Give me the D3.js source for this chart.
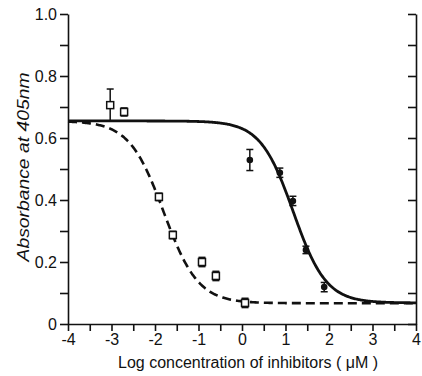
<!DOCTYPE html>
<html><head><meta charset="utf-8">
<script src="https://cdn.jsdelivr.net/npm/d3@7"></script>
<style>body{margin:0;background:#fff}svg{display:block}</style>
</head><body>
<svg id="c" width="422" height="376"></svg>
<script>
// Data
const squareX   = [-3.03, -2.71, -1.91, -1.59, -0.92, -0.60, 0.07];
const squareY   = [0.706, 0.684, 0.410, 0.287, 0.200, 0.155, 0.068];
const squareErr = [0.052, 0.013, 0.012, 0.012, 0.015, 0.015, 0.015];
const circleX   = [0.18, 0.87, 1.17, 1.47, 1.89];
const circleY   = [0.529, 0.488, 0.397, 0.239, 0.119];
const circleErr = [0.034, 0.015, 0.015, 0.012, 0.015];
// fitted curve parameters [top, bottom, logIC50, hill]
const dashedFit = [0.655, 0.067, -1.80, 1.10];
const solidFit  = [0.655, 0.068, 1.18, 1.15];
const xTicks = [-4, -3, -2, -1, 0, 1, 2, 3, 4];
const yTicks = [0, 0.2, 0.4, 0.6, 0.8, 1.0];
const xLabel = "Log concentration of inhibitors ( \u03BCM )";
const yLabel = "Absorbance at 405nm";

const svg = d3.select("#c");
const x = d3.scaleLinear().domain([-4, 4]).range([68, 416]);
const y = d3.scaleLinear().domain([0, 1]).range([324, 14]);
const font = "'Liberation Sans', Arial, sans-serif";

// axes
const yMinor = d3.range(0, 10.5, 1).map(d => d / 10);
const left = svg.append("g").attr("transform", `translate(${x(-4)},0)`)
  .call(d3.axisLeft(y).tickValues(yMinor).tickSize(8).tickSizeOuter(0).tickPadding(3)
    .tickFormat(d => {
      const k = Math.round(d * 10);
      if (k % 2) return "";
      return k === 0 ? "0" : d.toFixed(1);
    }));
const right = svg.append("g").attr("transform", `translate(${x(4)},0)`)
  .call(d3.axisLeft(y).tickValues(yMinor).tickSize(8).tickSizeOuter(0).tickFormat(""));
const xMinor = d3.range(-8, 8.5, 1).map(d => d / 2);
const bottom = svg.append("g").attr("transform", `translate(0,${y(0)})`)
  .call(d3.axisBottom(x).tickValues(xMinor).tickSize(7).tickSizeOuter(0).tickPadding(3)
    .tickFormat(d => Number.isInteger(d) && xTicks.includes(d) ? String(d) : ""));
[left, right, bottom].forEach(g => {
  g.selectAll("path,line").attr("stroke", "#111").attr("stroke-width", 1.6);
  g.selectAll("text").attr("fill", "#111").style("font-family", font).style("font-size", "16px");
});

// curves
function hill(p, v) { return p[1] + (p[0] - p[1]) / (1 + Math.pow(10, (v - p[2]) * p[3])); }
const xs = d3.range(0, 401).map(i => -4 + i * 0.02);
const line = p => d3.line().x(d => x(d)).y(d => y(hill(p, d)))(xs);
svg.append("path").attr("d", line(dashedFit)).attr("fill", "none")
  .attr("stroke", "#111").attr("stroke-width", 2.6).attr("stroke-dasharray", "9,5");
svg.append("path").attr("d", line(solidFit)).attr("fill", "none")
  .attr("stroke", "#111").attr("stroke-width", 2.8);

// error bars
function errBars(xa, ya, ea) {
  const g = svg.append("g").attr("stroke", "#111").attr("stroke-width", 1.5);
  xa.forEach((xv, i) => {
    const cx = x(xv), t = y(ya[i] + ea[i]), b = y(ya[i] - ea[i]);
    g.append("line").attr("x1", cx).attr("x2", cx).attr("y1", t).attr("y2", b);
    g.append("line").attr("x1", cx - 3.5).attr("x2", cx + 3.5).attr("y1", t).attr("y2", t);
    g.append("line").attr("x1", cx - 3.5).attr("x2", cx + 3.5).attr("y1", b).attr("y2", b);
  });
}
errBars(squareX, squareY, squareErr);
errBars(circleX, circleY, circleErr);
svg.append("g").selectAll("rect").data(squareX).join("rect")
  .attr("x", d => x(d) - 3.5).attr("y", (d, i) => y(squareY[i]) - 3.5)
  .attr("width", 7).attr("height", 7).attr("fill", "#fff").attr("stroke", "#111").attr("stroke-width", 1.5);
svg.append("g").selectAll("circle").data(circleX).join("circle")
  .attr("cx", d => x(d)).attr("cy", (d, i) => y(circleY[i])).attr("r", 3.3).attr("fill", "#111");

// labels
svg.append("text").attr("x", 248).attr("y", 368).attr("text-anchor", "middle")
  .style("font-family", font).style("font-size", "16px").attr("fill", "#111").text(xLabel);
svg.append("text").attr("transform", "translate(29,167) rotate(-90)").attr("text-anchor", "middle")
  .attr("textLength", 189).attr("lengthAdjust", "spacingAndGlyphs")
  .style("font-family", font).style("font-size", "17px").style("font-style", "italic")
  .attr("fill", "#111").text(yLabel);
</script>
</body></html>
